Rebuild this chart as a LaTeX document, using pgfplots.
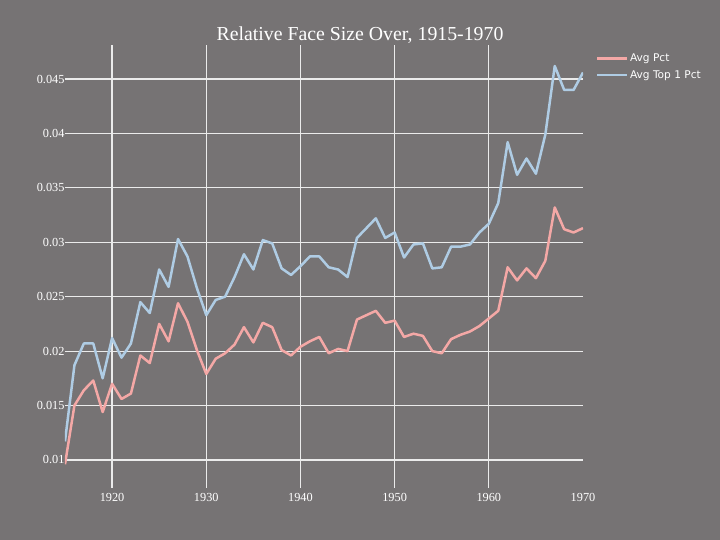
\documentclass[border=0pt]{standalone}
\usepackage{pgfplots}
\pgfplotsset{compat=1.18}
\usepackage{pgfplotstable}
\usepackage{fontspec}
\setmainfont{Liberation Serif}
\newfontfamily\legfont{DejaVu Sans}
\definecolor{bg}{HTML}{767374}
\definecolor{pinkc}{HTML}{F4A8A6}
\definecolor{bluec}{HTML}{AFCCE4}
\definecolor{gridc}{HTML}{EBEBEB}
\pgfplotstableread{
year val
1915 0.0096
1916 0.0150
1917 0.0164
1918 0.0173
1919 0.0144
1920 0.0170
1921 0.0156
1922 0.0161
1923 0.0196
1924 0.0189
1925 0.0225
1926 0.0209
1927 0.0244
1928 0.0227
1929 0.0201
1930 0.0179
1931 0.0193
1932 0.0198
1933 0.0206
1934 0.0222
1935 0.0208
1936 0.0226
1937 0.0222
1938 0.0201
1939 0.0196
1940 0.0204
1941 0.0209
1942 0.0213
1943 0.0198
1944 0.0202
1945 0.0200
1946 0.0229
1947 0.0233
1948 0.0237
1949 0.0226
1950 0.0228
1951 0.0213
1952 0.0216
1953 0.0214
1954 0.0200
1955 0.0198
1956 0.0211
1957 0.0215
1958 0.0218
1959 0.0223
1960 0.0230
1961 0.0237
1962 0.0277
1963 0.0265
1964 0.0276
1965 0.0267
1966 0.0283
1967 0.0332
1968 0.0312
1969 0.0309
1970 0.0313
}\avgpct
\pgfplotstableread{
year val
1915 0.0117
1916 0.0187
1917 0.0207
1918 0.0207
1919 0.0175
1920 0.0212
1921 0.0194
1922 0.0207
1923 0.0245
1924 0.0235
1925 0.0275
1926 0.0259
1927 0.0303
1928 0.0287
1929 0.0258
1930 0.0233
1931 0.0247
1932 0.0250
1933 0.0268
1934 0.0289
1935 0.0275
1936 0.0302
1937 0.0299
1938 0.0276
1939 0.0270
1940 0.0278
1941 0.0287
1942 0.0287
1943 0.0277
1944 0.0275
1945 0.0268
1946 0.0304
1947 0.0313
1948 0.0322
1949 0.0304
1950 0.0309
1951 0.0286
1952 0.0298
1953 0.0299
1954 0.0276
1955 0.0277
1956 0.0296
1957 0.0296
1958 0.0298
1959 0.0309
1960 0.0317
1961 0.0336
1962 0.0392
1963 0.0362
1964 0.0377
1965 0.0363
1966 0.0399
1967 0.0462
1968 0.0440
1969 0.0440
1970 0.0456
}\avgtop
\begin{document}
\begin{tikzpicture}[x=1pt,y=1pt]
\fill[bg] (0,0) rectangle (720,540);
\begin{axis}[
  at={(65pt,52pt)}, anchor=south west, scale only axis,
  width=518pt, height=443pt,
  xmin=1915, xmax=1970, ymin=0.00742, ymax=0.04813,
  axis line style={draw=none},
  major tick length=0pt,
  xtick={1920,1930,1940,1950,1960},
  xticklabels={1920,1930,1940,1950,1960},
  extra x ticks={1970}, extra x tick labels={1970},
  extra x tick style={grid=none},
  ytick={0.01,0.015,0.02,0.025,0.03,0.035,0.04,0.045},
  yticklabels={0.01,0.015,0.02,0.025,0.03,0.035,0.04,0.045},
  scaled y ticks=false,
  grid=major,
  major grid style={gridc, line width=1.2pt},
  ticklabel style={font=\fontsize{12.3}{14}\selectfont, text=white},
  xticklabel style={yshift=-2pt},
  yticklabel style={xshift=3pt},
  legend style={at={(rel axis cs:1.019,0.989)}, anchor=north west, draw=none, fill=none,
    text=white, font=\legfont\fontsize{10.6}{12.5}\selectfont, row sep=3.3pt},
  legend cell align=left,
  legend image code/.code={\draw[#1] (0pt,0pt) -- (26pt,0pt); \path (0pt,0pt) -- (29.5pt,0pt);},
]
\addplot[pinkc, line width=2.5pt, line join=round] table[x=year,y=val]{\avgpct};
\addlegendentry{Avg Pct}
\addplot[bluec, line width=2.5pt, line join=round] table[x=year,y=val]{\avgtop};
\addlegendentry{Avg Top 1 Pct}
\end{axis}
\node[text=white, font=\fontsize{19.8}{22}\selectfont] at (360,505) {Relative Face Size Over, 1915-1970};
\pgfresetboundingbox
\path[use as bounding box] (0,0) rectangle (720,540);
\end{tikzpicture}
\end{document}
